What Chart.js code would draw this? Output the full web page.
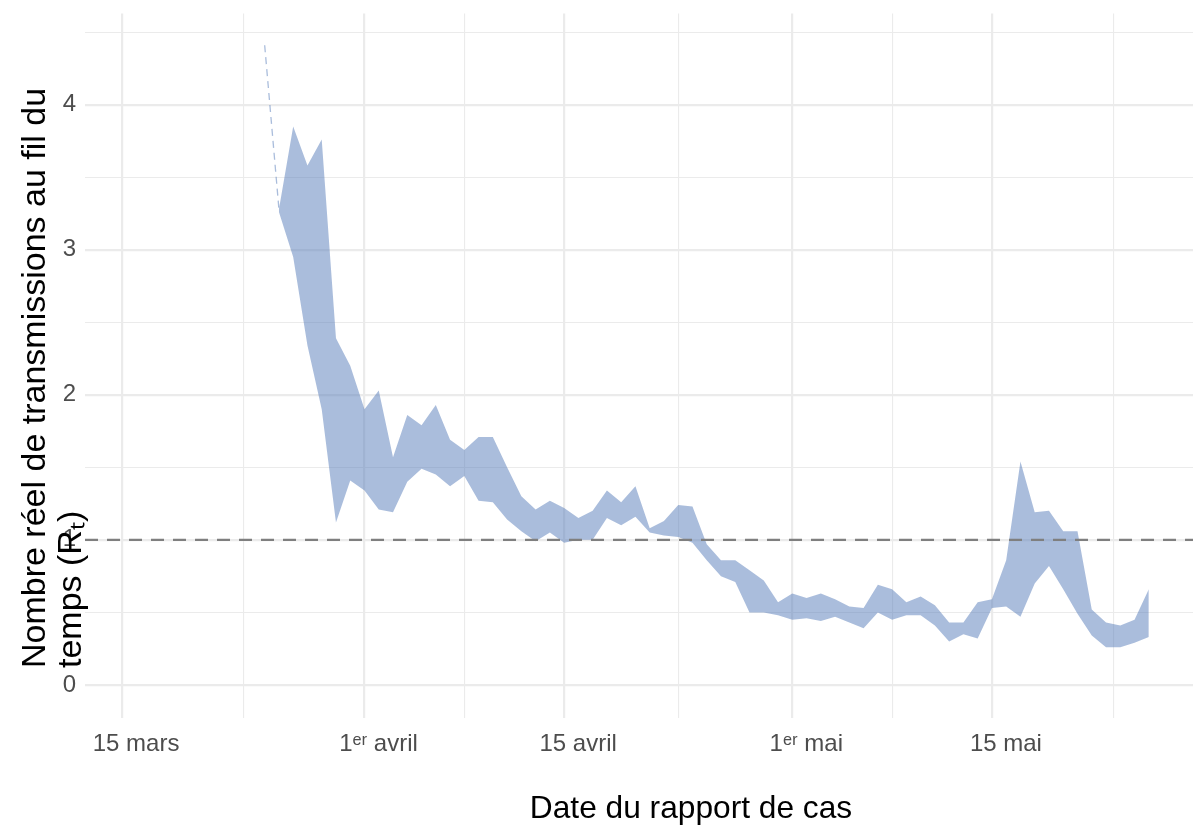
<!DOCTYPE html>
<html lang="fr">
  <head>
    <meta charset="UTF-8" />
    <title>Nombre réel de transmissions</title>
    <style>
      html, body { margin: 0; padding: 0; background: #fff; }
    </style>
  </head>
  <body>
    <canvas id="myChart" width="1193" height="830"></canvas>

    <script src="https://cdn.jsdelivr.net/npm/chart.js"></script>
    <script>
      // jours depuis le 15 mars
      const days = [11, 12, 13, 14, 15, 16, 17, 18, 19, 20, 21, 22, 23, 24, 25, 26, 27, 28, 29, 30,
        31, 32, 33, 34, 35, 36, 37, 38, 39, 40, 41, 42, 43, 44, 45, 46, 47, 48, 49, 50,
        51, 52, 53, 54, 55, 56, 57, 58, 59, 60, 61, 62, 63, 64, 65, 66, 67, 68, 69, 70, 71, 72];
      const lower = [3.26, 2.95, 2.34, 1.90, 1.12, 1.41, 1.34, 1.21, 1.19, 1.40, 1.49, 1.45, 1.37, 1.44, 1.27, 1.26, 1.14, 1.06, 0.99, 1.05,
        0.98, 1.00, 1.00, 1.15, 1.10, 1.16, 1.05, 1.03, 1.02, 0.98, 0.86, 0.75, 0.71, 0.50, 0.50, 0.48, 0.45, 0.46, 0.44, 0.47,
        0.43, 0.39, 0.50, 0.45, 0.48, 0.48, 0.41, 0.30, 0.35, 0.32, 0.53, 0.54, 0.47, 0.70, 0.82, 0.66, 0.49, 0.34, 0.26, 0.26, 0.29, 0.33];
      const upper = [3.28, 3.85, 3.58, 3.76, 2.39, 2.20, 1.90, 2.03, 1.57, 1.86, 1.79, 1.93, 1.69, 1.62, 1.71, 1.71, 1.50, 1.30, 1.21, 1.27,
        1.22, 1.15, 1.20, 1.34, 1.26, 1.37, 1.08, 1.13, 1.24, 1.23, 0.97, 0.86, 0.86, 0.79, 0.72, 0.57, 0.63, 0.60, 0.63, 0.59,
        0.54, 0.53, 0.69, 0.66, 0.57, 0.61, 0.55, 0.43, 0.43, 0.57, 0.59, 0.86, 1.54, 1.19, 1.20, 1.06, 1.06, 0.52, 0.43, 0.41, 0.45, 0.66];
      const earlyDays = [10, 11];
      const earlyValues = [4.41, 3.28];

      const tickDays = [0, 17, 31, 47, 61];
      const tickLabels = ["15 mars", "1ᵉʳ avril", "15 avril", "1ᵉʳ mai", "15 mai"];
      const minorDays = [8.5, 24, 39, 54, 69.5];
      const xMin = -2.6, xMax = 75.1;
      const yMin = -0.228, yMax = 4.628;
      const refLevel = 1;

      const xTitle = "Date du rapport de cas";
      const yTitle = ["Nombre réel de transmissions au fil du", "temps (Rₜ)"];

      const font = '"Liberation Sans", Arial, sans-serif';
      const band = "rgba(85, 123, 185, 0.5)";

      const titles = {
        id: "titles",
        afterDraw(chart) {
          const c = chart.ctx;
          c.save();
          c.fillStyle = "#000";
          c.textBaseline = "alphabetic";
          c.font = "31.7px " + font;
          c.textAlign = "center";
          c.fillText(xTitle, 691, 818);
          c.font = "34px " + font;
          c.translate(45, 668);
          c.rotate(-Math.PI / 2);
          c.textAlign = "left";
          c.fillText(yTitle[0], 0, 0);
          c.fillText(yTitle[1], 0, 36);
          c.restore();
        },
      };

      // pas de marge automatique autour de la zone du graphique
      const noPad = (scale) => {
        scale.paddingTop = 0;
        scale.paddingBottom = 0;
        scale.paddingLeft = 0;
        scale.paddingRight = 0;
      };

      const ctx = document.getElementById("myChart");

      const myChart = new Chart(ctx, {
        type: "line",
        data: {
          datasets: [
            {
              label: "ref",
              data: [{ x: xMin, y: refLevel }, { x: xMax, y: refLevel }],
              borderColor: "#7f7f7f",
              borderWidth: 2.4,
              borderDash: [13, 9],
              pointRadius: 0,
              order: 0,
            },
            {
              label: "early",
              data: earlyDays.map((d, i) => ({ x: d, y: earlyValues[i] })),
              borderColor: band,
              borderWidth: 1.3,
              borderDash: [7, 5],
              pointRadius: 0,
              order: 1,
            },
            {
              label: "lower",
              data: days.map((d, i) => ({ x: d, y: lower[i] })),
              borderWidth: 0,
              pointRadius: 0,
              fill: false,
              order: 3,
            },
            {
              label: "upper",
              data: days.map((d, i) => ({ x: d, y: upper[i] })),
              borderWidth: 0,
              pointRadius: 0,
              backgroundColor: band,
              fill: "-1",
              order: 2,
            },
          ],
        },
        options: {
          responsive: false,
          animation: false,
          devicePixelRatio: 1,
          layout: { padding: { top: 13.6, left: 0, right: 0, bottom: 0 } },
          plugins: { legend: { display: false }, tooltip: { enabled: false } },
          elements: { line: { tension: 0 } },
          scales: {
            x: {
              type: "linear",
              min: xMin,
              max: xMax,
              afterBuildTicks: (scale) => {
                scale.ticks = tickDays.map((v) => ({ value: v, major: true }))
                  .concat(minorDays.map((v) => ({ value: v, major: false })))
                  .sort((a, b) => a.value - b.value);
              },
              afterFit: (scale) => { scale.height = 112; noPad(scale); },
              ticks: {
                autoSkip: false,
                maxRotation: 0,
                padding: 12,
                labelOffset: 14,
                color: "#4d4d4d",
                font: { family: font, size: 24 },
                callback: (value) => {
                  const i = tickDays.indexOf(value);
                  return i >= 0 ? tickLabels[i] : "";
                },
              },
              grid: {
                color: "#ebebeb",
                lineWidth: (c) => (c.tick && c.tick.major ? 2.2 : 1.1),
                drawTicks: false,
              },
              border: { display: false },
            },
            y: {
              min: yMin,
              max: yMax,
              afterBuildTicks: (scale) => {
                const t = [];
                for (let v = 0; v <= 4.5; v += 0.5) t.push({ value: v, major: v % 1 === 0 });
                scale.ticks = t;
              },
              afterFit: (scale) => { scale.width = 85; noPad(scale); },
              ticks: {
                padding: 9,
                color: "#4d4d4d",
                font: { family: font, size: 24 },
                callback: (value) => (value % 1 === 0 ? String(value) : ""),
              },
              grid: {
                color: "#ebebeb",
                lineWidth: (c) => (c.tick && c.tick.major ? 2.2 : 1.1),
                drawTicks: false,
              },
              border: { display: false },
            },
          },
        },
        plugins: [titles],
      });
    </script>
  </body>
</html>
